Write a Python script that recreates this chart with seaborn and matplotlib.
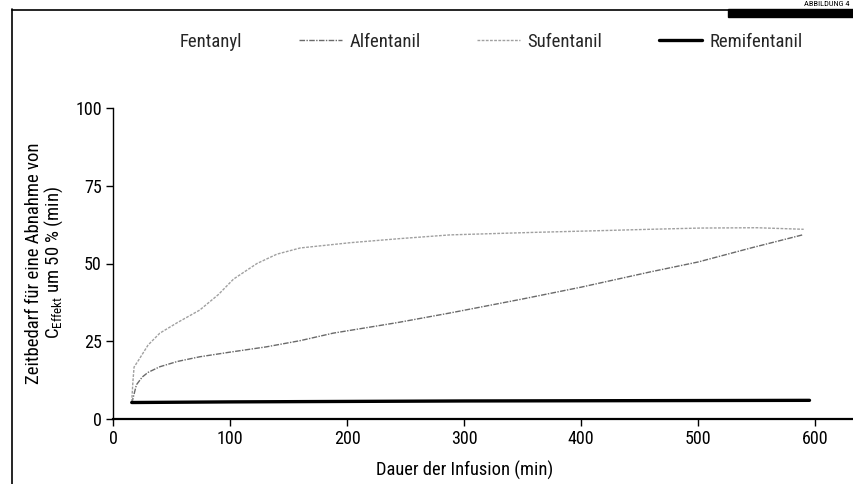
import matplotlib
matplotlib.use("Agg")
import matplotlib.pyplot as plt
from matplotlib import font_manager
from matplotlib.lines import Line2D
from matplotlib.patches import Rectangle
import seaborn as sns
import pandas as pd

# ---------------- data ----------------
alf_x = [16, 18, 20, 25, 30, 40, 55, 74, 100, 131, 160, 188, 243, 288, 350, 400, 459, 500, 545, 589]
alf_y = [5.0, 8.0, 11.0, 13.5, 15.0, 16.8, 18.5, 20.0, 21.5, 23.2, 25.2, 27.6, 31.0, 34.1, 38.6, 42.4, 47.3, 50.5, 55.0, 59.2]

suf_x = [16, 17, 18, 22, 30, 40, 55, 74, 90, 103, 123, 140, 160, 203, 245, 288, 359, 420, 459, 502, 550, 590]
suf_y = [5.5, 12.0, 16.7, 19.0, 23.8, 27.6, 31.0, 35.0, 40.0, 45.0, 50.0, 53.0, 55.0, 56.7, 58.0, 59.2, 60.0, 60.6, 61.0, 61.4, 61.5, 61.0]

remi_x = [16, 100, 300, 595]
remi_y = [5.3, 5.5, 5.8, 6.0]

legend_labels = ["Fentanyl", "Alfentanil", "Sufentanil", "Remifentanil"]
x_ticks = [0, 100, 200, 300, 400, 500, 600]
y_ticks = [0, 25, 50, 75, 100]

# ---------------- style ----------------
sns.set_theme(style="white")
avail = {f.name for f in font_manager.fontManager.ttflist}
fam = None
for cand in ["Liberation Sans Narrow", "Roboto Condensed", "Open Sans Condensed", "Liberation Sans"]:
    if cand in avail:
        fam = cand
        break
if fam is None:
    fam = "DejaVu Sans"
plt.rcParams["font.family"] = [fam, "DejaVu Sans"]
plt.rcParams["mathtext.fontset"] = "custom"
plt.rcParams["mathtext.rm"] = fam
plt.rcParams["mathtext.it"] = fam
plt.rcParams["mathtext.default"] = "rm"

fig = plt.figure(figsize=(8.54, 4.84), dpi=100)
W, H = 854, 484
ax = fig.add_axes([113 / W, 1 - 419 / H, (854 - 113) / W, (419 - 108) / H])

df_alf = pd.DataFrame({"x": alf_x, "y": alf_y})
df_suf = pd.DataFrame({"x": suf_x, "y": suf_y})
df_remi = pd.DataFrame({"x": remi_x, "y": remi_y})

alf_style = dict(color="#6a6a6a", linewidth=1.0, linestyle=(0, (4, 1, 1, 1)))
suf_style = dict(color="#a0a0a0", linewidth=1.0, linestyle=(0, (2, 1)))
remi_style = dict(color="black", linewidth=2.4, linestyle="-")

sns.lineplot(data=df_alf, x="x", y="y", ax=ax, estimator=None, sort=False, **alf_style)
sns.lineplot(data=df_suf, x="x", y="y", ax=ax, estimator=None, sort=False, **suf_style)
sns.lineplot(data=df_remi, x="x", y="y", ax=ax, estimator=None, sort=False, **remi_style)

ax.set_xlim(0, 633)
ax.set_ylim(0, 100)
ax.set_xticks(x_ticks)
ax.set_yticks(y_ticks)
ax.set_facecolor("white")
for s in ["top", "right"]:
    ax.spines[s].set_visible(False)
ax.spines["left"].set_color("black")
ax.spines["bottom"].set_color("black")
ax.spines["left"].set_linewidth(1.0)
ax.spines["bottom"].set_linewidth(1.6)
ax.tick_params(axis="both", direction="out", length=5, width=1.0, colors="black",
               labelsize=13, left=True, bottom=True, pad=3)
ax.set_ylabel("")
ax.set_xlabel("Dauer der Infusion (min)", fontsize=13.3, color="black")
ax.xaxis.set_label_coords((465 - 113) / (854 - 113), -0.135)

fig.text(45 / W, 1 - 263 / H,
         "Zeitbedarf für eine Abnahme von\nC$_{\\mathrm{Effekt}}$ um 50 % (min)",
         rotation=90, ha="center", va="center", multialignment="center",
         fontsize=13.5, color="black", linespacing=1.0)

# legend
handles = [
    Line2D([], [], color="white", linewidth=0.0),
    Line2D([], [], **alf_style),
    Line2D([], [], **suf_style),
    Line2D([], [], **remi_style),
]
fig.legend(handles, legend_labels, ncol=4, loc="center",
           bbox_to_anchor=(466 / W, 1 - 42 / H), frameon=False, fontsize=13.5,
           handlelength=2.3, handletextpad=0.4, columnspacing=3.0)

# page frame
fig.add_artist(Line2D([12 / W, 12 / W], [0, 1 - 9 / H], color="black", linewidth=1.2,
                      transform=fig.transFigure))
fig.add_artist(Line2D([12 / W, 728 / W], [1 - 10 / H, 1 - 10 / H], color="black",
                      linewidth=1.2, transform=fig.transFigure))
fig.add_artist(Rectangle((728 / W, 1 - 17 / H), (854 - 728) / W, 8 / H, color="black",
                         transform=fig.transFigure))
fig.text(850 / W, 1 - 4.5 / H, "ABBILDUNG 4", ha="right", va="center", fontsize=6,
         color="black")

fig.savefig("out.png", dpi=100, facecolor="white")
